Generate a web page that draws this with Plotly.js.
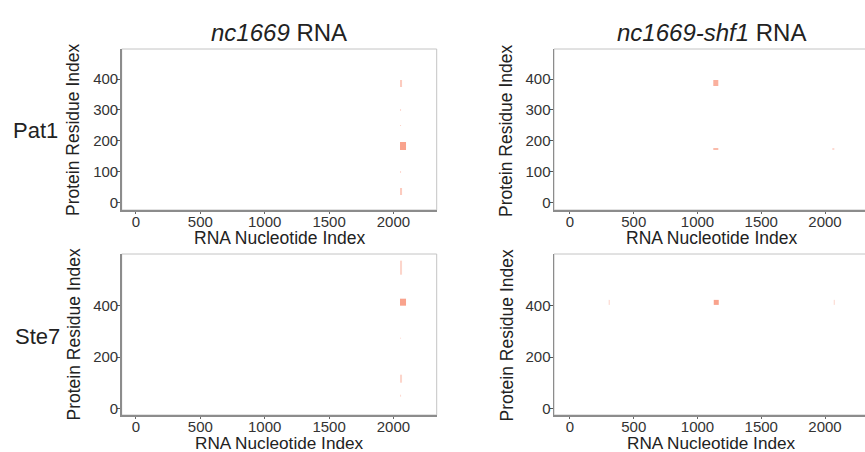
<!DOCTYPE html>
<html>
<head>
<meta charset="utf-8">
<script src="https://cdn.plot.ly/plotly-3.0.1.min.js"></script>
<style>
html,body{margin:0;padding:0;overflow:hidden;background:#fff;}
#chart{width:870px;height:452px;}
</style>
</head>
<body>
<div id="chart"></div>
<script>
// Column titles (RNA) and row labels (protein)
var rnaNames = ["<i>nc1669</i> RNA", "<i>nc1669-shf1</i> RNA"];
var proteinNames = ["Pat1", "Ste7"];
var xTitle = "RNA Nucleotide Index";
var yTitle = "Protein Residue Index";

// Contact patches: RNA nucleotide span, protein residue span, intensity
// Pat1 x nc1669
var pat1_wt_rna0 = [2051, 2051, 2051, 2051, 2051, 2051];
var pat1_wt_rna1 = [2064, 2062, 2062, 2098, 2062, 2064];
var pat1_wt_pro0 = [373, 297, 247, 170, 97, 25];
var pat1_wt_pro1 = [397, 302, 252, 197, 102, 46];
var pat1_wt_val  = [0.5, 0.35, 0.4, 0.88, 0.35, 0.5];
// Pat1 x nc1669-shf1
var pat1_mut_rna0 = [1124, 1124, 2060];
var pat1_mut_rna1 = [1161, 1161, 2070];
var pat1_mut_pro0 = [377, 171, 172];
var pat1_mut_pro1 = [397, 178, 176];
var pat1_mut_val  = [0.75, 0.65, 0.35];
// Ste7 x nc1669
var ste7_wt_rna0 = [2051, 2051, 2051, 2051, 2051];
var ste7_wt_rna1 = [2064, 2098, 2062, 2064, 2062];
var ste7_wt_pro0 = [521, 400, 271, 100, 46];
var ste7_wt_pro1 = [576, 429, 277, 130, 52];
var ste7_wt_val  = [0.4, 0.88, 0.35, 0.4, 0.35];
// Ste7 x nc1669-shf1
var ste7_mut_rna0 = [304, 1124, 2069];
var ste7_mut_rna1 = [312, 1166, 2077];
var ste7_mut_pro0 = [404, 403, 404];
var ste7_mut_pro1 = [423, 422, 423];
var ste7_mut_val  = [0.4, 0.88, 0.4];

var xTicks = [0, 500, 1000, 1500, 2000];
var yTicksPat1 = [0, 100, 200, 300, 400];
var yTicksSte7 = [0, 200, 400];

function uniqSorted(a){ return Array.from(new Set(a)).sort(function(p,q){return p-q;}); }
function buildGrid(r0,r1,p0,p1,v){
  var xs = uniqSorted(r0.concat(r1));
  var ys = uniqSorted(p0.concat(p1));
  var z = [];
  for (var j=0;j<ys.length-1;j++){
    var row=[];
    var cy=(ys[j]+ys[j+1])/2;
    for (var i=0;i<xs.length-1;i++){
      var cx=(xs[i]+xs[i+1])/2, val=null;
      for (var k=0;k<v.length;k++){
        if (cx>r0[k]&&cx<r1[k]&&cy>p0[k]&&cy<p1[k]) { val=v[k]; }
      }
      row.push(val);
    }
    z.push(row);
  }
  return {x:xs,y:ys,z:z};
}

var cs = [[0,'rgb(255,255,255)'],[1,'rgb(248,150,126)']];
function hm(g, xa, ya){
  return {type:'heatmap', x:g.x, y:g.y, z:g.z, xaxis:xa, yaxis:ya,
    colorscale:cs, zmin:0, zmax:1, showscale:false, hoverongaps:false, zsmooth:false};
}

var data = [
  hm(buildGrid(pat1_wt_rna0,pat1_wt_rna1,pat1_wt_pro0,pat1_wt_pro1,pat1_wt_val),'x','y'),
  hm(buildGrid(pat1_mut_rna0,pat1_mut_rna1,pat1_mut_pro0,pat1_mut_pro1,pat1_mut_val),'x2','y2'),
  hm(buildGrid(ste7_wt_rna0,ste7_wt_rna1,ste7_wt_pro0,ste7_wt_pro1,ste7_wt_val),'x3','y3'),
  hm(buildGrid(ste7_mut_rna0,ste7_mut_rna1,ste7_mut_pro0,ste7_mut_pro1,ste7_mut_val),'x4','y4')
];

var W=870, H=452;
var FONT = 'Liberation Sans, Arial, sans-serif';
var tickFont = {family:FONT, size:15, color:'#333'};

function xax(dom, rng, anchor){
  return {domain:dom, range:rng, anchor:anchor, tickvals:xTicks, ticks:'outside', ticklen:2,
    tickcolor:'#666', showgrid:false, zeroline:false, showline:true, linecolor:'#8c8c8c', linewidth:1.5,
    tickfont:tickFont, ticklabelstandoff:-5, fixedrange:true};
}
function yax(dom, rng, anchor, tv){
  return {domain:dom, range:rng, anchor:anchor, tickvals:tv, ticks:'outside', ticklen:3,
    tickcolor:'#555', showgrid:false, zeroline:false, showline:true, linecolor:'#8c8c8c', linewidth:1.5,
    tickfont:tickFont, ticklabelstandoff:-4, fixedrange:true};
}

var xL=[121.7/W, 436.7/W], xR=[554/W, 868/W];
var yT=[1-210/H, 1-49/H], yB=[1-415/H, 1-254/H];
var rxL=[-111, 2336], rxR=[-125, 2337];
var ryT=[-23.6, 497.3], ryB=[-26, 602];

var shapes = [['x','y'],['x2','y2'],['x3','y3'],['x4','y4']].map(function(p){
  return {type:'rect', xref:p[0]+' domain', yref:p[1]+' domain', x0:0, x1:1, y0:0, y1:1,
    line:{color:'#c4c4c4', width:1}, layer:'below'};
});

function ann(text, px, py, size, angle){
  return {text:text, x:px/W, y:1-py/H, xref:'paper', yref:'paper', showarrow:false,
    xanchor:'center', yanchor:'middle', textangle:angle||0,
    font:{family:FONT, size:size, color:'#222'}};
}
var cxL=(xL[0]+xL[1])/2*W, cxR=(xR[0]+xR[1])/2*W;
var annotations = [
  ann(rnaNames[0], cxL, 33, 24),
  ann(rnaNames[1], cxR, 33, 24),
  ann(proteinNames[0], 35, 131, 22),
  ann(proteinNames[1], 37, 336, 22),
  ann(xTitle, cxL, 238.5, 17.5),
  ann(xTitle, cxR, 238.5, 17.5),
  ann(xTitle, cxL, 442.5, 17.2),
  ann(xTitle, cxR, 442.5, 17.2),
  ann(yTitle, 73.5, 130.5, 17.5, -90),
  ann(yTitle, 506.5, 130.5, 17.5, -90),
  ann(yTitle, 73.5, 335, 17.5, -90),
  ann(yTitle, 506.5, 335, 17.5, -90)
];

var layout = {
  width:W, height:H, margin:{l:0,r:0,t:0,b:0}, paper_bgcolor:'#fff', plot_bgcolor:'#fff',
  showlegend:false, font:{family:FONT},
  xaxis:xax(xL,rxL,'y'), yaxis:yax(yT,ryT,'x',yTicksPat1),
  xaxis2:xax(xR,rxR,'y2'), yaxis2:yax(yT,ryT,'x2',yTicksPat1),
  xaxis3:xax(xL,rxL,'y3'), yaxis3:yax(yB,ryB,'x3',yTicksSte7),
  xaxis4:xax(xR,rxR,'y4'), yaxis4:yax(yB,ryB,'x4',yTicksSte7),
  shapes:shapes, annotations:annotations
};

Plotly.newPlot('chart', data, layout, {staticPlot:true, displayModeBar:false});
</script>
</body>
</html>
